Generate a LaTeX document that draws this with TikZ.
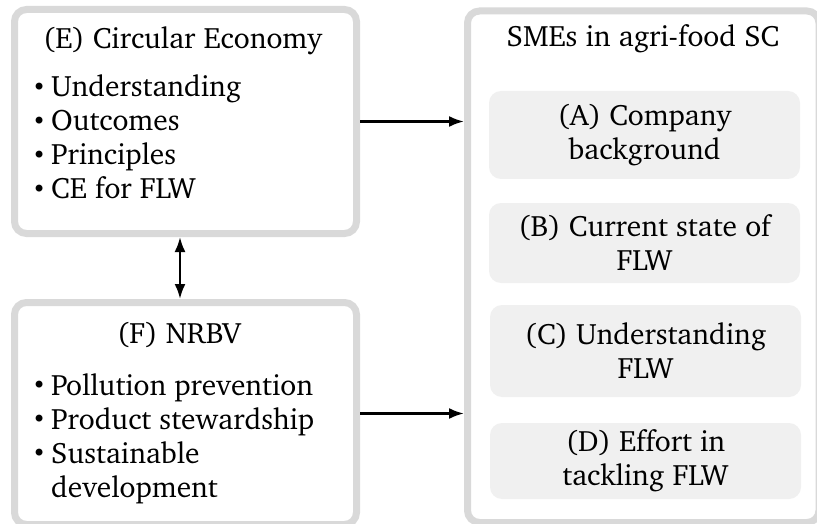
\documentclass[tikz,border=0pt]{standalone}
\usepackage[T1]{fontenc}
\renewcommand{\rmdefault}{bch}
\usetikzlibrary{arrows.meta}

\definecolor{boxline}{HTML}{D9D9D9}
\definecolor{boxfill}{HTML}{F0F0F0}
\newcommand{\bul}{\makebox[19pt][l]{\raisebox{1.5pt}{\fontsize{24}{24}\selectfont\textbullet}}}

\begin{document}
\begin{tikzpicture}[x=1pt,y=-1pt,
	outerbox/.style={draw=boxline,line width=7pt,rounded corners=12pt,fill=white,inner sep=0pt},
	innerbox/.style={fill=boxfill,rounded corners=12pt,minimum width=311pt,align=center,font=\fontsize{29.5}{34}\selectfont},
	txt/.style={inner sep=0pt,font=\fontsize{29.5}{34}\selectfont},
	conn/.style={line width=2.4pt,-{Latex[length=15pt,width=11pt]}}]
				\useasboundingbox (0,0) rectangle (817,524);
				\clip (0,0) rectangle (817,524);
				% boxes
				\node[outerbox,minimum width=342pt,minimum height=224pt] (ce) at (185.5,121.5) {};
				\node[outerbox,minimum width=342pt,minimum height=222pt] (nrbv) at (185.5,413.5) {};
				\node[outerbox,minimum width=351.5pt,minimum height=511.5pt] (sc) at (643.25,266.75) {};
				% left side
				\node[txt,anchor=base] (cetitle) at (182.5,49) {(E) Circular Economy};
				\foreach \t [count=\i] in {Understanding,Outcomes,Principles,CE for FLW}{
					\node[txt,anchor=base west] (ce\i) at (32,63+34*\i) {\bul\t};
				}
				\node[txt,anchor=base] (nrbvtitle) at (179,343) {(F) NRBV};
				\foreach \t [count=\i] in {Pollution prevention,Product stewardship,Sustainable}{
					\node[txt,anchor=base west] (nrbv\i) at (32,361+34*\i) {\bul\t};
				}
				\node[txt,anchor=base west] (nrbv4) at (32,497) {\phantom{\bul}development};
				% right side
				\node[txt,anchor=base] (sctitle) at (643,47) {SMEs in agri-food SC};
				\node[innerbox,minimum height=88pt] (a) at (644.5,135) {(A) Company\\background};
				\node[innerbox,minimum height=80pt] (b) at (644.5,243) {(B) Current state of\\FLW};
				\node[innerbox,minimum height=92pt] (c) at (645.5,351) {(C) Understanding\\FLW};
				\node[innerbox,minimum height=76pt] (d) at (645.5,461) {(D) Effort in\\tackling FLW};
				% arrows
				\draw[conn] (ce.east) -- (ce.east -| sc.west);
				\draw[conn] (nrbv.east) -- (nrbv.east -| sc.west);
				\draw[conn,{Latex[length=15pt,width=11pt]}-{Latex[length=15pt,width=11pt]}] ([xshift=-5.5pt]ce.south) -- ([xshift=-5.5pt]ce.south |- nrbv.north);
				\end{tikzpicture}
\end{document}
